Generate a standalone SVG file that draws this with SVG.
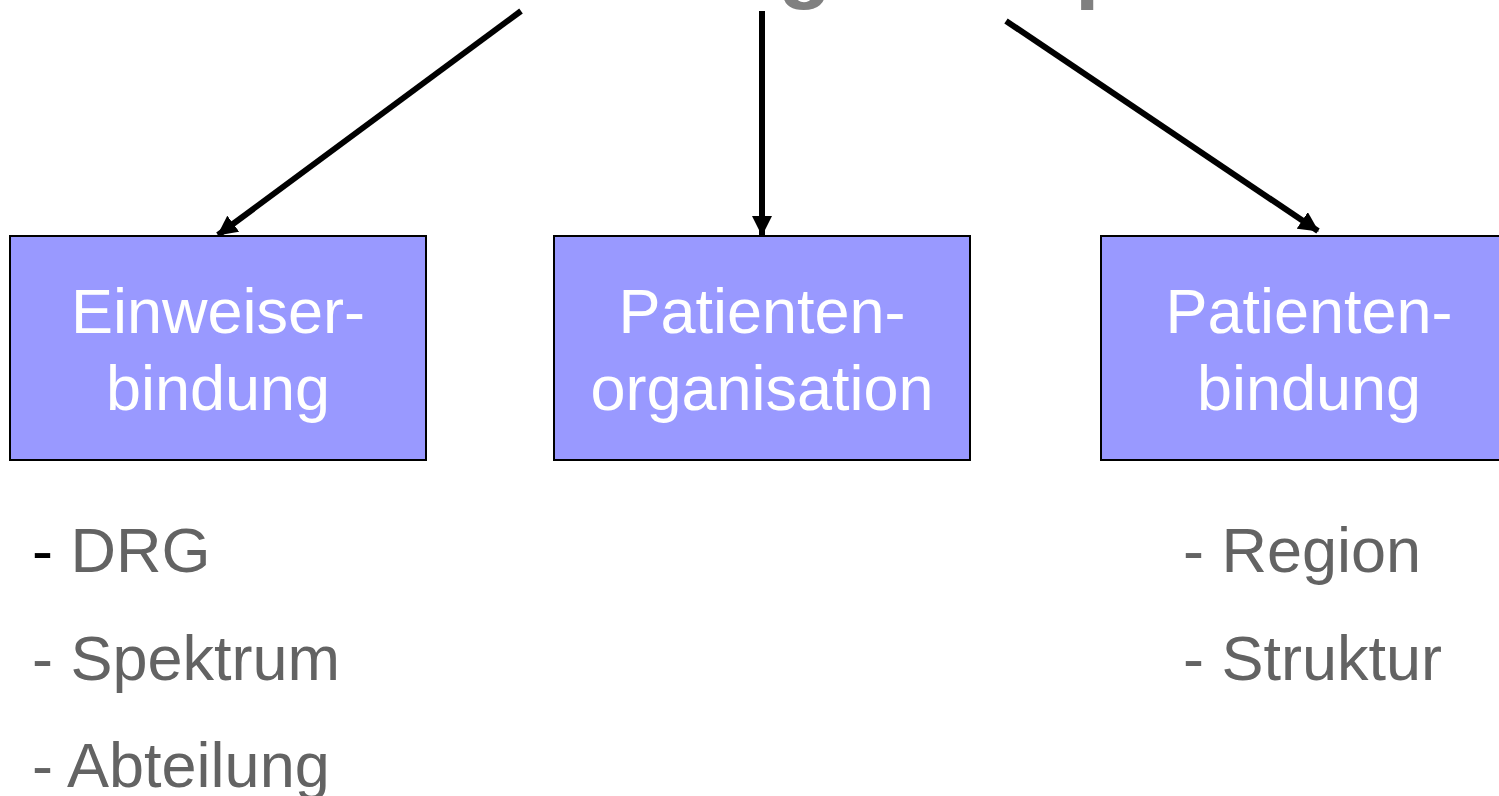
<svg xmlns="http://www.w3.org/2000/svg" width="1499" height="796" viewBox="0 0 1499 796">
<defs>
<style>
.box{fill:#9999FF;stroke:#000;stroke-width:2}
.lbl{font-family:"Liberation Sans",Arial,sans-serif;font-size:63px;fill:#fff;text-anchor:middle}
.item{font-family:"Liberation Sans",Arial,sans-serif;font-size:63px;fill:#636363}
.title{font-family:"Liberation Sans",Arial,sans-serif;font-size:88px;font-weight:bold;fill:#808080}
.conn{stroke:#000;stroke-width:6;fill:none;marker-end:url(#ah)}
</style>
<marker id="ah" markerUnits="userSpaceOnUse" markerWidth="20" markerHeight="20" refX="19" refY="10" orient="auto" viewBox="0 0 20 20">
<path d="M0,0 L20,10 L0,20 z" fill="#000"/>
</marker>
</defs>
<rect width="1499" height="796" fill="#fff"/>
<g id="title">
<text class="title" x="805" y="-8" text-anchor="middle">g</text>
<text class="title" x="1075" y="-8">p</text>
</g>
<g id="connectors">
<line class="conn" x1="521" y1="11" x2="218" y2="235"/>
<line class="conn" x1="762" y1="11" x2="762" y2="235"/>
<line class="conn" x1="1006" y1="21" x2="1318" y2="231"/>
</g>
<g id="node-einweiser">
<rect class="box" x="10" y="236" width="416" height="224"/>
<text class="lbl" x="218" y="333">Einweiser-</text>
<text class="lbl" x="218" y="410">bindung</text>
</g>
<g id="node-organisation">
<rect class="box" x="554" y="236" width="416" height="224"/>
<text class="lbl" x="762" y="333">Patienten-</text>
<text class="lbl" x="762" y="410">organisation</text>
</g>
<g id="node-patientenbindung">
<rect class="box" x="1101" y="236" width="416" height="224"/>
<text class="lbl" x="1309" y="333">Patienten-</text>
<text class="lbl" x="1309" y="410">bindung</text>
</g>
<g id="list-left">
<text class="item" x="32" y="572"><tspan fill="#000">-</tspan> DRG</text>
<text class="item" x="32" y="680">- Spektrum</text>
<text class="item" x="32" y="787">- Abteilung</text>
</g>
<g id="list-right">
<text class="item" x="1183" y="572">- Region</text>
<text class="item" x="1183" y="680">- Struktur</text>
</g>
</svg>
